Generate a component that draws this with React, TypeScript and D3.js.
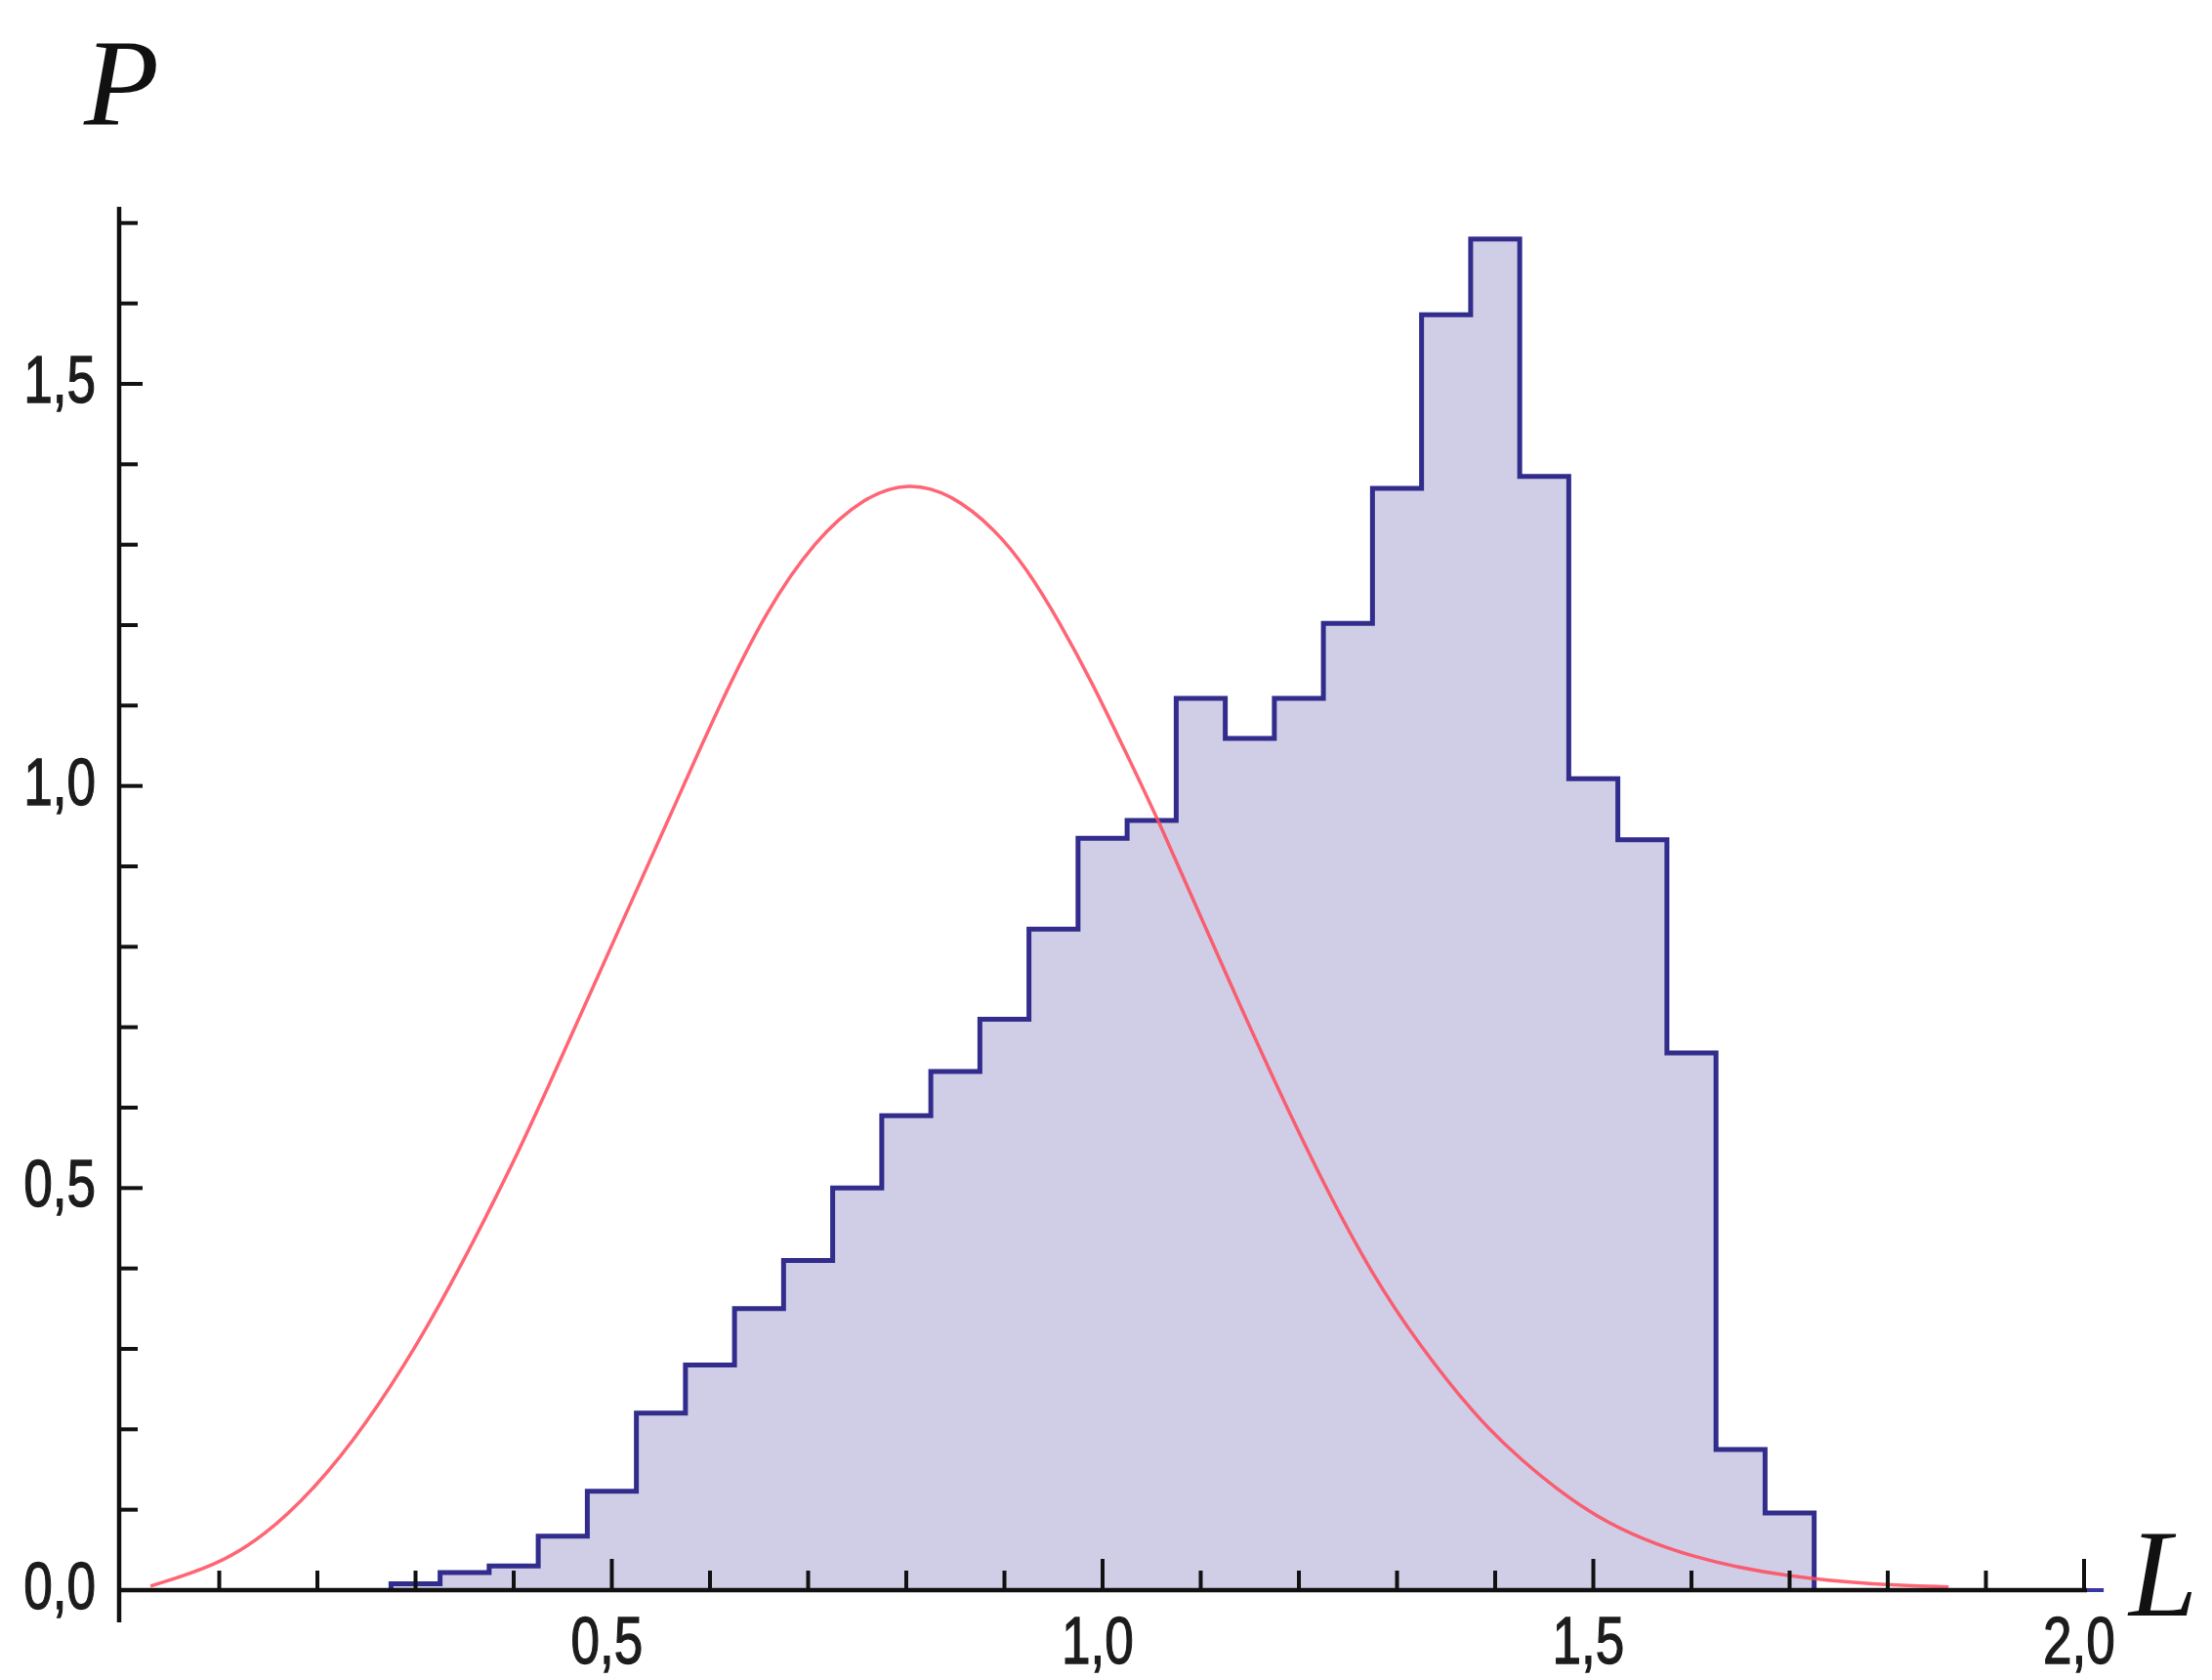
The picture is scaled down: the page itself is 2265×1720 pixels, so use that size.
import React from 'react';
import * as d3 from 'd3';

const W = 2265;
const H = 1720;

// Histogram: bins of width 0.05 from 0.275 to 1.725
const binEdges = [
  0.275, 0.325, 0.375, 0.425, 0.475, 0.525, 0.575, 0.625, 0.675, 0.725,
  0.775, 0.825, 0.875, 0.925, 0.975, 1.025, 1.075, 1.125, 1.175, 1.225,
  1.275, 1.325, 1.375, 1.425, 1.475, 1.525, 1.575, 1.625, 1.675, 1.725,
];
const binHeights = [
  0.008, 0.022, 0.03, 0.067, 0.123, 0.22, 0.28, 0.35, 0.41, 0.5,
  0.59, 0.645, 0.71, 0.822, 0.935, 0.957, 1.109, 1.059, 1.109, 1.202,
  1.37, 1.586, 1.68, 1.385, 1.009, 0.933, 0.668, 0.175, 0.096,
];

// Red reference density curve
const curveX = [
  0.03, 0.096, 0.146, 0.198, 0.249, 0.302, 0.348, 0.395, 0.428, 0.508,
  0.561, 0.607, 0.657, 0.707, 0.757, 0.803, 0.846, 0.89, 0.923, 0.956,
  0.99, 1.022, 1.059, 1.105, 1.172, 1.228, 1.274, 1.321, 1.381, 1.421,
  1.502, 1.603, 1.701, 1.786, 1.862,
];
const curveY = [
  0.005, 0.03, 0.067, 0.127, 0.205, 0.305, 0.407, 0.52, 0.606, 0.824,
  0.967, 1.094, 1.218, 1.306, 1.36, 1.378, 1.363, 1.32, 1.27, 1.204,
  1.127, 1.046, 0.952, 0.823, 0.64, 0.498, 0.394, 0.307, 0.215, 0.167,
  0.086, 0.038, 0.016, 0.007, 0.004,
];

const xMajorTicks = [0.5, 1.0, 1.5, 2.0];
const xTickLabels = ['0,5', '1,0', '1,5', '2,0'];
const xMinorTicks = [0.1, 0.2, 0.3, 0.4, 0.6, 0.7, 0.8, 0.9, 1.1, 1.2, 1.3, 1.4, 1.6, 1.7, 1.8, 1.9];
const yMajorTicks = [0, 0.5, 1.0, 1.5];
const yTickLabels = ['0,0', '0,5', '1,0', '1,5'];
const yMinorTicks = [0.1, 0.2, 0.3, 0.4, 0.6, 0.7, 0.8, 0.9, 1.1, 1.2, 1.3, 1.4, 1.6, 1.7];

export default function App() {
  const x = d3.scaleLinear().domain([0, 2]).range([124, 2134]);
  const y = d3.scaleLinear().domain([0, 1.5]).range([1628, 393]);
  const axisX = 122;

  const histPts: [number, number][] = [
    [binEdges[0], 0],
    ...binHeights.map((h, i) => [binEdges[i], h] as [number, number]),
    [binEdges[binEdges.length - 1], 0],
  ];
  const stepLine = d3
    .line<[number, number]>()
    .x((d) => x(d[0]))
    .y((d) => y(d[1]))
    .curve(d3.curveStepAfter);
  const histPath = stepLine(histPts) || '';

  const redPts: [number, number][] = curveX.map((v, i) => [v, curveY[i]]);
  const redPath =
    d3
      .line<[number, number]>()
      .x((d) => x(d[0]))
      .y((d) => y(d[1]))
      .curve(d3.curveBasis)(redPts) || '';

  const axisColor = '#111';
  const labelStyle: React.CSSProperties = {
    fontFamily: '"Liberation Sans", Arial, Helvetica, sans-serif',
    fontSize: 69,
    fill: '#1c1c1c',
    stroke: '#1c1c1c',
    strokeWidth: 1.3,
  };
  const titleStyle: React.CSSProperties = {
    fontFamily: '"Liberation Serif", "Times New Roman", serif',
    fontStyle: 'italic',
    fontSize: 126,
    fill: '#111',
  };

  return (
    <svg
      width={W}
      height={H}
      viewBox={`0 0 ${W} ${H}`}
      style={{ position: 'absolute', left: 0, top: 0, background: '#fff' }}
    >
      <rect x={0} y={0} width={W} height={H} fill="#fff" />

      {/* histogram fill and outline */}
      <path d={histPath + 'Z'} fill="#d0cee6" stroke="none" />
      <path d={histPath} fill="none" stroke="#322d8c" strokeWidth={5} strokeLinejoin="miter" />

      {/* red density curve */}
      <path d={redPath} fill="none" stroke="#ff4a5c" strokeOpacity={0.85} strokeWidth={3.5} />

      {/* x axis */}
      <line x1={x(2.002)} x2={x(2.02)} y1={y(0)} y2={y(0)} stroke="#3a38a0" strokeWidth={4} />
      <line x1={axisX} x2={x(2.003)} y1={y(0)} y2={y(0)} stroke={axisColor} strokeWidth={4.5} />
      {xMinorTicks.map((t) => (
        <line key={'xm' + t} x1={x(t)} x2={x(t)} y1={y(0)} y2={y(0) - 20} stroke={axisColor} strokeWidth={4} />
      ))}
      {xMajorTicks.map((t) => (
        <line key={'xM' + t} x1={x(t)} x2={x(t)} y1={y(0)} y2={y(0) - 32} stroke={axisColor} strokeWidth={4} />
      ))}
      {xMajorTicks.map((t, i) => (
        <g key={'xl' + t} transform={`translate(${x(t) - 5},1703) scale(0.77,1)`}>
          <text x={0} y={0} textAnchor="middle" style={labelStyle}>
            {xTickLabels[i]}
          </text>
        </g>
      ))}

      {/* y axis */}
      <line x1={axisX} x2={axisX} y1={y(1.72)} y2={y(-0.04)} stroke={axisColor} strokeWidth={4.5} />
      {yMinorTicks.map((t) => (
        <line key={'ym' + t} x1={axisX} x2={axisX + 19} y1={y(t)} y2={y(t)} stroke={axisColor} strokeWidth={4} />
      ))}
      {yMajorTicks
        .filter((t) => t > 0)
        .map((t) => (
          <line key={'yM' + t} x1={axisX} x2={axisX + 24} y1={y(t)} y2={y(t)} stroke={axisColor} strokeWidth={4} />
        ))}
      {yMajorTicks.map((t, i) => (
        <g key={'yl' + t} transform={`translate(98,${y(t) + 19}) scale(0.77,1)`}>
          <text x={0} y={0} textAnchor="end" style={labelStyle}>
            {yTickLabels[i]}
          </text>
        </g>
      ))}

      {/* axis titles */}
      <text x={86} y={128} style={titleStyle}>
        P
      </text>
      <text x={2180} y={1654} style={titleStyle}>
        L
      </text>
    </svg>
  );
}
